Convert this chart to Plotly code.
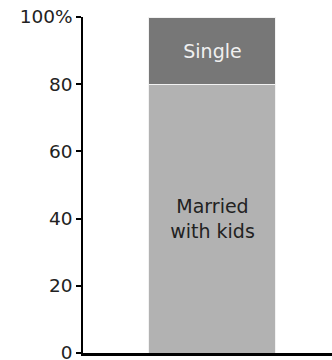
import plotly.graph_objects as go

# Household composition, one stacked column (percent of total)
category = [""]
segments = ["Married<br>with kids", "Single"]
values = [80, 20]
fills = ["#b2b2b2", "#777777"]
text_colors = ["#222222", "#f0f0f0"]

tick_vals = [0, 20, 40, 60, 80, 100]
tick_text = ["0", "20", "40", "60", "80", "100%"]

fig = go.Figure()
for name, v, c, tc in zip(segments, values, fills, text_colors):
    fig.add_trace(go.Bar(
        x=category, y=[v], name=name,
        marker=dict(color=c, line=dict(color="#f2f2f2", width=1)),
        text=[name], textposition="inside", insidetextanchor="middle",
        textangle=0, constraintext="none",
        textfont=dict(family="DejaVu Sans", size=19, color=tc),
        width=0.51, hoverinfo="skip",
    ))

fig.update_layout(
    barmode="stack",
    showlegend=False,
    width=332, height=360,
    margin=dict(l=83, r=0, t=17, b=7, autoexpand=False),
    paper_bgcolor="white", plot_bgcolor="white",
    font=dict(family="DejaVu Sans", size=19, color="#222222"),
    xaxis=dict(
        range=[-0.52, 0.48], showticklabels=False, ticks="",
        showline=True, linecolor="black", linewidth=2.5,
        showgrid=False, zeroline=False, fixedrange=True, automargin=False,
    ),
    yaxis=dict(
        range=[0, 100], tickvals=tick_vals, ticktext=tick_text,
        ticks="outside", ticklen=5, tickwidth=1.5, tickcolor="black",
        showline=True, linecolor="black", linewidth=1.5,
        showgrid=False, zeroline=False, fixedrange=True, automargin=False,
        ticklabeloverflow="allow",
        tickfont=dict(family="DejaVu Sans", size=18.5, color="#222222"),
    ),
)

fig.write_html("out.html")
